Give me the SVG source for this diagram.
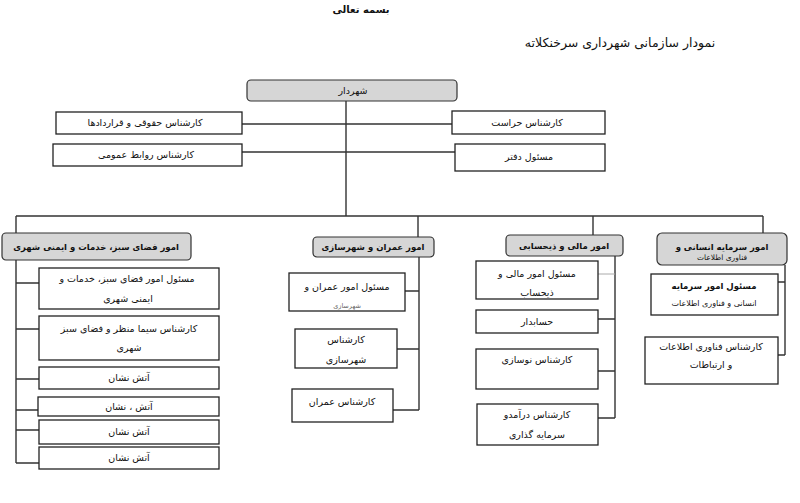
<svg xmlns="http://www.w3.org/2000/svg" width="800" height="503" viewBox="0 0 800 503">
<style>
text{font-family:"DejaVu Sans",sans-serif;font-size:9.5px;fill:#111;direction:rtl;text-anchor:middle}
.hd{font-weight:bold;font-size:8.5px}
.b{fill:#fff;stroke:#222;stroke-width:1.3}
.g{fill:#d6d6d6;stroke:#333;stroke-width:1.2}
.c{fill:none;stroke:#333;stroke-width:1.4}
.cl{fill:none;stroke:#aaa;stroke-width:1}
</style>
<rect width="800" height="503" fill="#fff"/>
<text x="361" y="13" class="hd" style="font-size:10px">بسمه تعالی</text>
<text x="620" y="47" style="font-size:12.5px">نمودار سازمانی شهرداری سرخنکلاته</text>
<g id="connectors">
<path class="c" d="M346 101V216M242 124H452M242 152H455M16 216H763M16 216V233M418 216V237M593 216V235M763 216V233"/>
<path class="c" d="M16 260V463M16 283H39M16 329H39M16 379H39M16 410H38M16 430H39M16 463H39"/>
<path class="c" d="M419 257V410M405 291H419M397 349H419M393 410H419"/>
<path class="c" d="M615 256V418M598 319H615M598 371H615M598 418H615"/>
<path class="cl" d="M598 274H615"/>
<path class="c" d="M785 265V355M778 282H785M778 355H785"/>
</g>
<g id="n-mayor"><rect class="g" x="247" y="80" width="210" height="21" rx="4"/><text x="353" y="94">شهردار</text></g>
<g id="n-legal"><rect class="b" x="56" y="112" width="186" height="22"/><text x="145" y="126">کارشناس حقوقی و قراردادها</text></g>
<g id="n-pr"><rect class="b" x="53" y="144" width="189" height="22"/><text x="146" y="158">کارشناس روابط عمومی</text></g>
<g id="n-security"><rect class="b" x="452" y="111" width="153" height="23"/><text x="527" y="126">کارشناس حراست</text></g>
<g id="n-office"><rect class="b" x="455" y="144" width="150" height="27"/><text x="529" y="160">مسئول دفتر</text></g>
<g id="n-green"><rect class="g" x="2" y="233" width="189" height="27" rx="4"/><text x="96" y="250" class="hd">امور فضای سبز، خدمات و ایمنی شهری</text></g>
<g id="n-green1"><rect class="b" x="39" y="268" width="180" height="41"/><text x="127" y="282">مسئول امور فضای سبز، خدمات و</text><text x="128" y="302">ایمنی شهری</text></g>
<g id="n-green2"><rect class="b" x="39" y="316" width="180" height="44"/><text x="129" y="332">کارشناس سیما منظر و فضای سبز</text><text x="129" y="351">شهری</text></g>
<g id="n-fire1"><rect class="b" x="39" y="367" width="180" height="22"/><text x="129" y="381">آتش نشان</text></g>
<g id="n-fire2"><rect class="b" x="38" y="397" width="181" height="19"/><text x="129" y="410">آتش ، نشان</text></g>
<g id="n-fire3"><rect class="b" x="39" y="420" width="180" height="24"/><text x="129" y="435">آتش نشان</text></g>
<g id="n-fire4"><rect class="b" x="39" y="447" width="180" height="22"/><text x="129" y="461">آتش نشان</text></g>
<g id="n-civil"><rect class="g" x="313" y="237" width="121" height="20" rx="4"/><text x="373" y="250" class="hd">امور عمران و شهرسازی</text></g>
<g id="n-civil1"><rect class="b" x="289" y="273" width="116" height="38"/><text x="347" y="290">مسئول امور عمران و</text><text x="347" y="308" style="font-size:6.5px;fill:#666">شهرسازی</text></g>
<g id="n-civil2"><rect class="b" x="295" y="329" width="102" height="39"/><text x="346" y="343">کارشناس</text><text x="346" y="363">شهرسازی</text></g>
<g id="n-civil3"><rect class="b" x="292" y="389" width="101" height="33"/><text x="342" y="405">کارشناس عمران</text></g>
<g id="n-fin"><rect class="g" x="506" y="235" width="117" height="21" rx="4"/><text x="564" y="249" class="hd">امور مالی و ذیحسابی</text></g>
<g id="n-fin1"><rect class="b" x="476" y="261" width="122" height="38"/><text x="537" y="277">مسئول امور مالی و</text><text x="537" y="296">ذیحساب</text></g>
<g id="n-fin2"><rect class="b" x="476" y="310" width="122" height="23"/><text x="537" y="325">حسابدار</text></g>
<g id="n-fin3"><rect class="b" x="476" y="349" width="122" height="40"/><text x="537" y="363">کارشناس نوسازی</text></g>
<g id="n-fin4"><rect class="b" x="477" y="404" width="121" height="41"/><text x="537" y="418">کارشناس درآمدو</text><text x="537" y="438">سرمایه گذاری</text></g>
<g id="n-hr"><rect class="g" x="657" y="233" width="130" height="32" rx="5"/><text x="722" y="250" class="hd">امور سرمایه انسانی و</text><text x="722" y="260" style="font-size:7.5px">فناوری اطلاعات</text></g>
<g id="n-hr1"><rect class="b" x="651" y="274" width="127" height="41"/><text x="714" y="289" class="hd">مسئول امور سرمایه</text><text x="714" y="306" style="font-size:8px">انسانی و فناوری اطلاعات</text></g>
<g id="n-hr2"><rect class="b" x="645" y="337" width="133" height="47"/><text x="711" y="350">کارشناس فناوری اطلاعات</text><text x="711" y="368">و ارتباطات</text></g>
</svg>
